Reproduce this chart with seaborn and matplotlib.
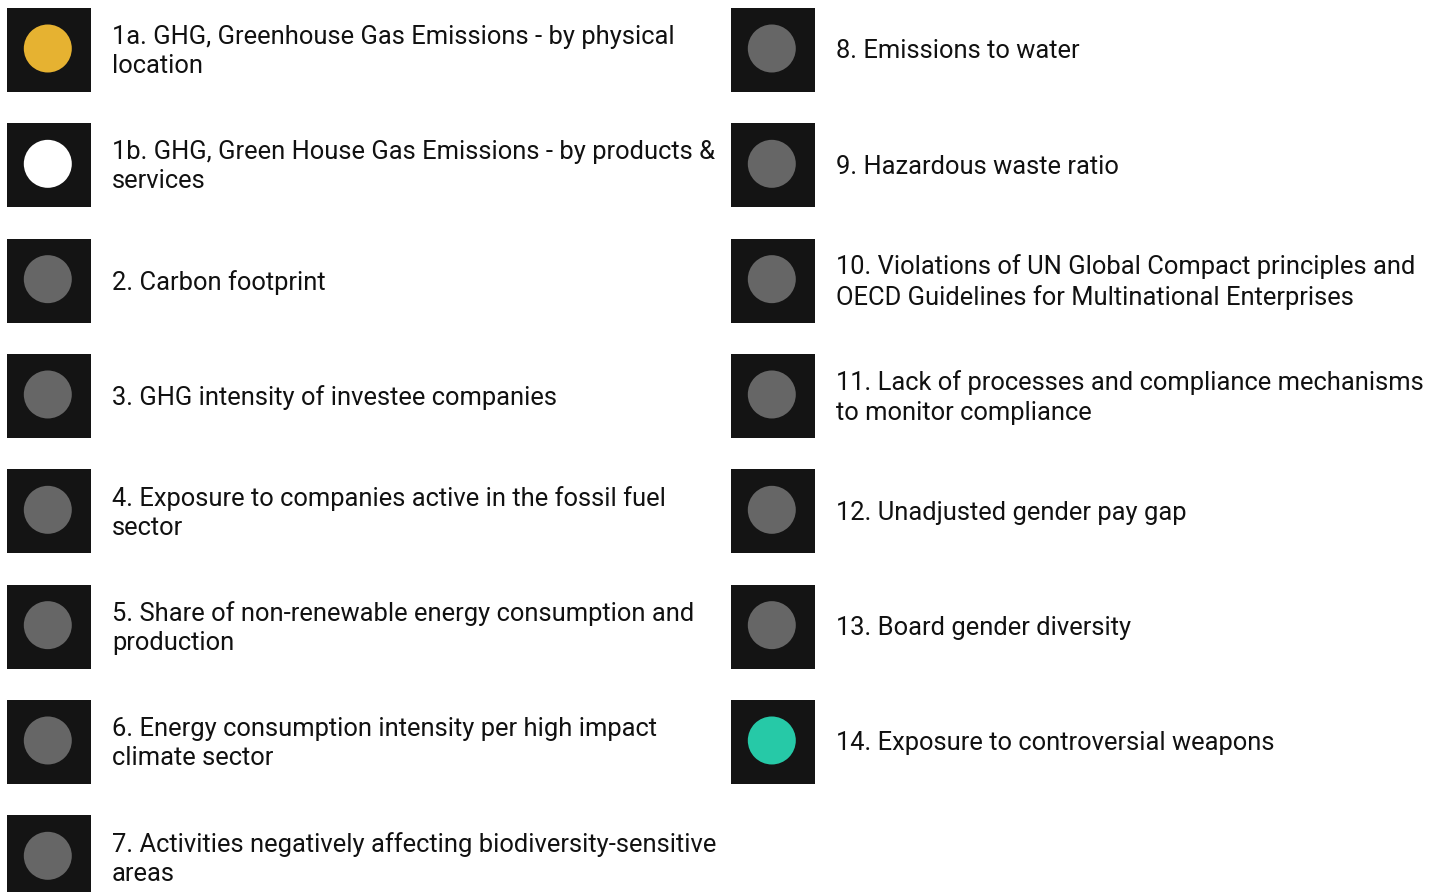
import matplotlib.pyplot as plt
import seaborn as sns
import pandas as pd

# indicator labels (line breaks as in the original layout)
labels = [
    "1a. GHG, Greenhouse Gas Emissions - by physical\nlocation",
    "1b. GHG, Green House Gas Emissions - by products &\nservices",
    "2. Carbon footprint",
    "3. GHG intensity of investee companies",
    "4. Exposure to companies active in the fossil fuel\nsector",
    "5. Share of non-renewable energy consumption and\nproduction",
    "6. Energy consumption intensity per high impact\nclimate sector",
    "7. Activities negatively affecting biodiversity-sensitive\nareas",
    "8. Emissions to water",
    "9. Hazardous waste ratio",
    "10. Violations of UN Global Compact principles and\nOECD Guidelines for Multinational Enterprises",
    "11. Lack of processes and compliance mechanisms\nto monitor compliance",
    "12. Unadjusted gender pay gap",
    "13. Board gender diversity",
    "14. Exposure to controversial weapons",
]
status = ["amber", "white"] + ["grey"] * 12 + ["green"]
column = [0] * 8 + [1] * 7
row = list(range(8)) + list(range(7))

palette = {"amber": "#E6B231", "white": "#FFFFFF", "grey": "#666666", "green": "#26C9A7"}

df = pd.DataFrame({"label": labels, "status": status, "col": column, "row": row})

# layout in pixels
col_x0, col_step = 49, 724
row_y0, row_step = 50, 115.33
df["x"] = col_x0 + df["col"] * col_step
df["y"] = row_y0 + df["row"] * row_step

px = 0.72  # points per pixel at dpi 100

fig = plt.figure(figsize=(14.4, 8.92), dpi=100)
ax = fig.add_axes([0, 0, 1, 1])
ax.set_xlim(0, 1440)
ax.set_ylim(892, 0)
ax.axis("off")

sns.scatterplot(data=df, x="x", y="y", marker="s", s=(84 * px) ** 2,
                color="#141414", linewidth=0, legend=False, ax=ax)
sns.scatterplot(x=df["x"] - 1.2, y=df["y"] - 1.5, hue=df["status"], palette=palette,
                s=(48 * px) ** 2, linewidth=0, legend=False, ax=ax)

for _, r in df.iterrows():
    ax.text(r["x"] + 63, r["y"] + 1.5, r["label"], fontsize=18.4, family=["Roboto", "DejaVu Sans"],
            color="#111111", va="center", ha="left", linespacing=1.27)

ax.set_xlim(0, 1440)
ax.set_ylim(892, 0)
fig.savefig("out.png", dpi=100)
